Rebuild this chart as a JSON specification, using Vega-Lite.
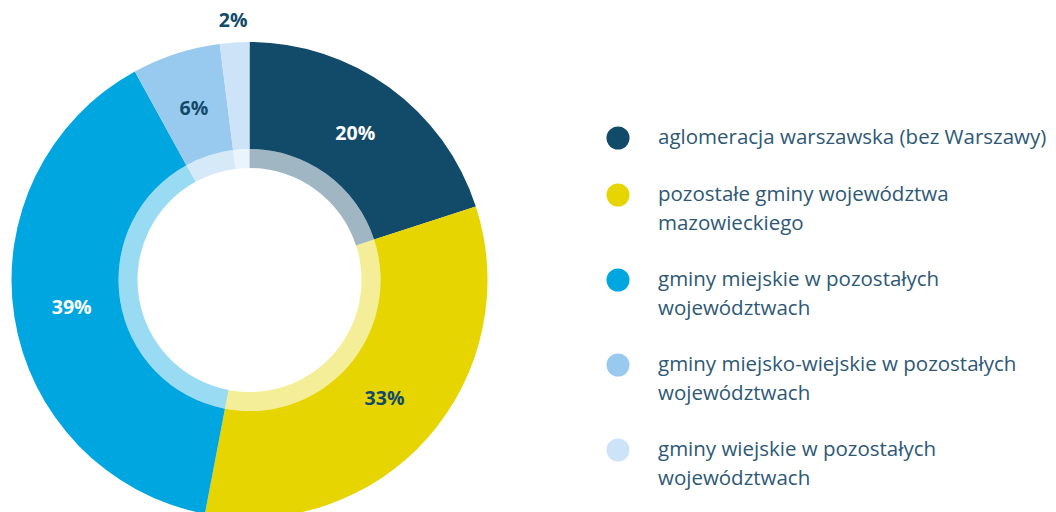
{
  "$schema": "https://vega.github.io/schema/vega-lite/v6.json",
  "autosize": {"type": "none"},
  "width": 499,
  "height": 560,
  "padding": {"left": 0, "top": 0, "right": 557, "bottom": -48},
  "background": "white",
  "data": {"values": [
    {"category": "aglomeracja warszawska (bez Warszawy)", "value": 20, "label": "20%", "order": 1},
    {"category": "pozostałe gminy województwa\nmazowieckiego", "value": 33, "label": "33%", "order": 2},
    {"category": "gminy miejskie w pozostałych\nwojewództwach", "value": 39, "label": "39%", "order": 3},
    {"category": "gminy miejsko-wiejskie w pozostałych\nwojewództwach", "value": 6, "label": "6%", "order": 4},
    {"category": "gminy wiejskie w pozostałych\nwojewództwach", "value": 2, "label": "2%", "order": 5}
  ]},
  "encoding": {
    "theta": {"field": "value", "type": "quantitative", "stack": true},
    "order": {"field": "order", "type": "quantitative"}
  },
  "layer": [
    {
      "mark": {"type": "arc", "radius": 238, "radius2": 131},
      "encoding": {
        "color": {
          "field": "category", "type": "nominal",
          "scale": {
            "domain": [
              "aglomeracja warszawska (bez Warszawy)",
              "pozostałe gminy województwa\nmazowieckiego",
              "gminy miejskie w pozostałych\nwojewództwach",
              "gminy miejsko-wiejskie w pozostałych\nwojewództwach",
              "gminy wiejskie w pozostałych\nwojewództwach"
            ],
            "range": ["#124A69", "#E6D500", "#00A6E0", "#98C9EE", "#CDE3F7"]
          },
          "legend": {
            "orient": "none", "legendX": 606, "legendY": 126, "title": null,
            "symbolType": "circle", "symbolSize": 530, "symbolStrokeWidth": 0, "symbolOpacity": 1,
            "labelFont": "Open Sans", "labelFontSize": 20.5, "labelColor": "#2E5874",
            "labelExpr": "split(datum.label, '\\n')", "labelLimit": 500,
            "rowPadding": 33, "labelOffset": 28
          }
        }
      }
    },
    {
      "mark": {"type": "arc", "radius": 131, "radius2": 112, "opacity": 0.4},
      "encoding": {
        "color": {"field": "category", "type": "nominal", "legend": null}
      }
    },
    {
      "mark": {"type": "text", "font": "Open Sans", "fontSize": 19.5, "fontWeight": "bold", "radius": {"expr": "datum.value < 3 ? 260 : 180"}},
      "encoding": {
        "text": {"field": "label", "type": "nominal"},
        "color": {"condition": {"test": "datum.order == 1 || datum.order == 3", "value": "#FFFFFF"}, "value": "#124A69"}
      }
    }
  ],
  "config": {
    "view": {"stroke": null},
    "style": {"guide-label": {"lineHeight": 29}}
  }
}
